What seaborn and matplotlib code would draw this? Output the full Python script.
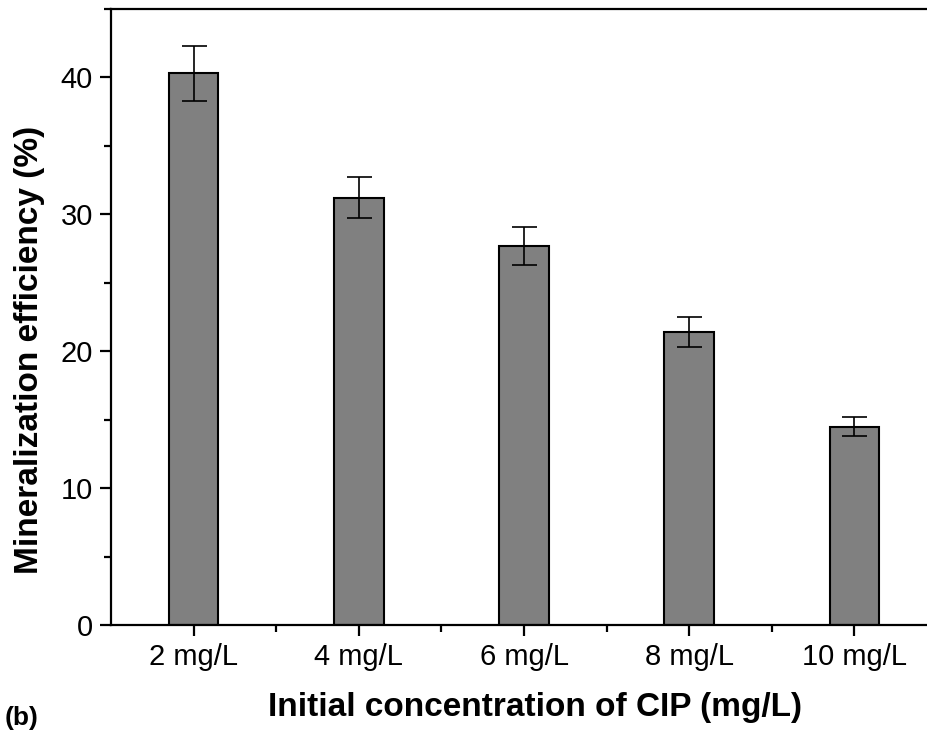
import matplotlib
matplotlib.use("Agg")
import matplotlib.pyplot as plt
import seaborn as sns
import pandas as pd
from matplotlib.ticker import MultipleLocator, FixedLocator

categories = ["2 mg/L", "4 mg/L", "6 mg/L", "8 mg/L", "10 mg/L"]
values = [40.3, 31.2, 27.7, 21.4, 14.5]
errors = [2.0, 1.5, 1.4, 1.1, 0.7]

sns.set_style("ticks")
plt.rcParams['font.family'] = ['Liberation Sans', 'DejaVu Sans']
plt.rcParams['text.color'] = 'black'
plt.rcParams['axes.labelcolor'] = 'black'

df = pd.DataFrame({"conc": categories, "eff": values})

fig = plt.figure(figsize=(9.28, 7.35), dpi=100)
W, H = 928, 735
x0, x1, y0, y1 = 111, 937, 625, 9
ax = fig.add_axes([x0 / W, (H - y0) / H, (x1 - x0) / W, (y0 - y1) / H])

sns.barplot(data=df, x="conc", y="eff", ax=ax, color="#808080", width=0.3,
            edgecolor="black", linewidth=1.5, errorbar=None, saturation=1)
for p in ax.patches:
    p.set_facecolor("#808080")
centers = [p.get_x() + p.get_width() / 2 for p in ax.patches]
ax.errorbar(centers, values, yerr=errors, fmt="none", ecolor="black",
            elinewidth=1.2, capsize=9, capthick=1.2)

ax.set_xlim(-0.5, 4.5)
ax.set_ylim(0, 45)
ax.yaxis.set_major_locator(MultipleLocator(10))
ax.yaxis.set_minor_locator(MultipleLocator(5))
ax.xaxis.set_minor_locator(FixedLocator([0.5, 1.5, 2.5, 3.5]))

for s in ax.spines.values():
    s.set_linewidth(1.6)
    s.set_color("black")

ax.tick_params(axis="both", which="major", direction="out", length=8, width=1.6,
               labelsize=21, colors="black", pad=5)
ax.tick_params(axis="both", which="minor", direction="out", length=5, width=1.6, colors="black")

ax.set_xlabel("Initial concentration of CIP (mg/L)", fontsize=24, fontweight="bold", labelpad=15)
ax.set_ylabel("Mineralization efficiency (%)", fontsize=24, fontweight="bold", labelpad=11)
ax.xaxis.label.set_x(0.513)
ax.yaxis.label.set_y(0.446)

fig.text(5 / W, 1 - 718 / H, "(b)", fontsize=19, fontweight="bold", va="center", ha="left")

fig.savefig("out.png", dpi=100)
